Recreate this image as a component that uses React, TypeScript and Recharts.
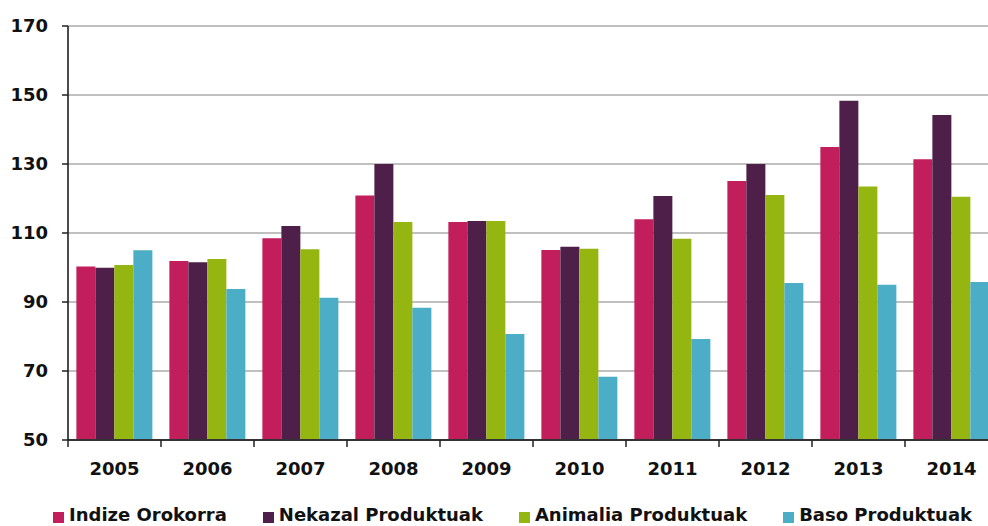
import { BarChart, Bar, XAxis, YAxis, CartesianGrid, Legend } from "recharts";

// ── Data ──────────────────────────────────────────────────────────────────────

const years = ["2005", "2006", "2007", "2008", "2009", "2010", "2011", "2012", "2013", "2014"];
const indize   = [100.3, 101.9, 108.5, 120.9, 113.2, 105.1, 114.0, 125.1, 134.9, 131.4];
const nekazal  = [99.9, 101.5, 112.0, 130.0, 113.5, 106.0, 120.7, 130.0, 148.3, 144.2];
const animalia = [100.7, 102.5, 105.3, 113.2, 113.5, 105.4, 108.3, 121.0, 123.5, 120.5];
const baso     = [105.0, 93.8, 91.2, 88.3, 80.7, 68.3, 79.3, 95.5, 95.0, 95.8];
const yTicks = [50, 70, 90, 110, 130, 150, 170];

const series = [
  { key: "indize", name: "Indize Orokorra", color: "#C21E5C" },
  { key: "nekazal", name: "Nekazal Produktuak", color: "#4E2049" },
  { key: "animalia", name: "Animalia Produktuak", color: "#95B511" },
  { key: "baso", name: "Baso Produktuak", color: "#4BADC6" },
];

const data = years.map((year, i) => ({
  year,
  indize: indize[i],
  nekazal: nekazal[i],
  animalia: animalia[i],
  baso: baso[i],
}));

const FONT = "'DejaVu Sans', sans-serif";

// ── X tick: label plus boundary tick marks ────────────────────────────────────

function YearTick(props: any) {
  const { x, y, payload, index } = props;
  const half = payload?.offset ?? 46.5;
  const top = 440;
  return (
    <g>
      <line x1={x - half} x2={x - half} y1={top} y2={top + 7} stroke="#222" strokeWidth={1.5} />
      {index === years.length - 1 && (
        <line x1={x + half} x2={x + half} y1={top} y2={top + 7} stroke="#222" strokeWidth={1.5} />
      )}
      <text x={x} y={y} dy="0.71em" textAnchor="middle" fontFamily={FONT} fontWeight="bold" fontSize={18} fill="#111">
        {payload.value}
      </text>
    </g>
  );
}

function LegendContent() {
  return (
    <div style={{ display: "flex", height: 20, lineHeight: "20px", paddingLeft: 53, gap: 36, fontFamily: FONT, fontWeight: "bold", fontSize: 18, color: "#111", whiteSpace: "nowrap" }}>
      {series.map(s => (
        <div key={s.key} style={{ display: "flex", alignItems: "center" }}>
          <span style={{ width: 11, height: 11, background: s.color, marginRight: 5, marginTop: 4 }} />
          <span>{s.name}</span>
        </div>
      ))}
    </div>
  );
}

// ── Component ─────────────────────────────────────────────────────────────────

export default function App() {
  return (
    <div style={{ position: "fixed", left: 0, top: 0, width: 988, height: 526, overflow: "hidden", background: "#fff" }}>
      <BarChart
        width={1000}
        height={525}
        data={data}
        margin={{ top: 26, right: 2, left: 0, bottom: 0 }}
        barCategoryGap="9%"
        barGap={0}
      >
        <CartesianGrid vertical={false} stroke="#C0C0C0" strokeWidth={2} />
        <XAxis
          dataKey="year"
          height={65}
          tick={<YearTick />}
          tickLine={false}
          tickSize={6}
          tickMargin={16}
          axisLine={{ stroke: "#333", strokeWidth: 2 }}
          interval={0}
        />
        <YAxis
          domain={[50, 170]}
          ticks={yTicks}
          width={68}
          tickSize={6}
          tickMargin={14}
          tick={{ fontFamily: FONT, fontWeight: "bold", fontSize: 18, fill: "#111" }}
          tickLine={{ stroke: "#222", strokeWidth: 1.5 }}
          axisLine={{ stroke: "#111", strokeWidth: 1.5 }}
          allowDataOverflow
        />
        <Legend verticalAlign="bottom" align="left" wrapperStyle={{ left: 0, width: 988 }} content={<LegendContent />} />
        {series.map(s => (
          <Bar key={s.key} dataKey={s.key} name={s.name} fill={s.color} isAnimationActive={false} />
        ))}
      </BarChart>
    </div>
  );
}
